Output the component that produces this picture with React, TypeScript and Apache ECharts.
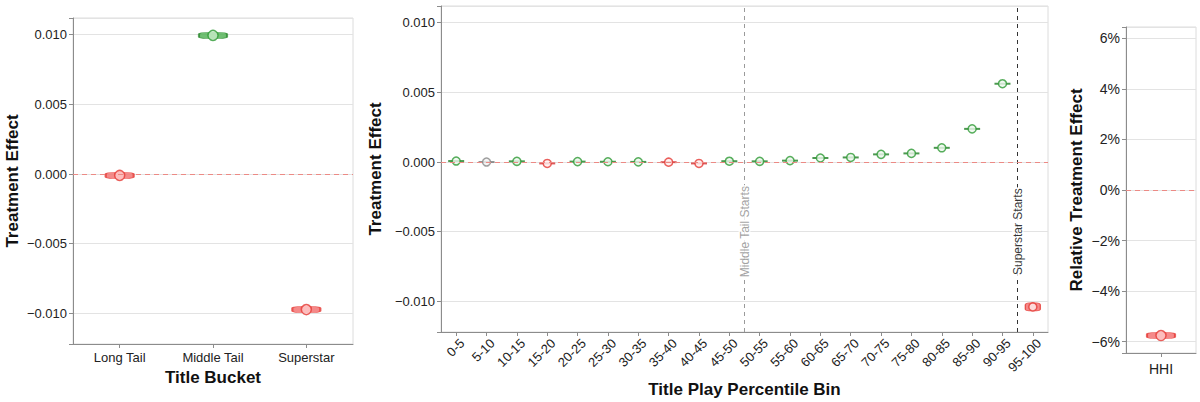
import React, { useEffect, useRef } from "react";
import * as echarts from "echarts";

// ---- data ----
const bucketCategories = ["Long Tail", "Middle Tail", "Superstar"];
const bucketEffects = [-0.0001, 0.00995, -0.00973];
const bucketSignificance = ["neg", "pos", "neg"];

const binCategories = [
  "0-5", "5-10", "10-15", "15-20", "20-25", "25-30", "30-35", "35-40", "40-45", "45-50",
  "50-55", "55-60", "60-65", "65-70", "70-75", "75-80", "80-85", "85-90", "90-95", "95-100",
];
const binEffects = [
  0.00007, 0.0, 0.00005, -0.0001, 0.00003, 0.00002, 0.00001, -0.00001, -0.0001, 0.00006,
  0.00005, 0.0001, 0.00029, 0.00033, 0.00055, 0.00062, 0.00102, 0.00238, 0.00562, -0.0104,
];
const binSignificance = [
  "pos", "ns", "pos", "neg", "pos", "pos", "pos", "neg", "neg", "pos",
  "pos", "pos", "pos", "pos", "pos", "pos", "pos", "pos", "pos", "neg",
];

const thresholdPositions = [9.5, 18.5];
const thresholdLabels = ["Middle Tail Starts", "Superstar Starts"];

const hhiCategories = ["HHI"];
const hhiEffects = [-5.76];
const hhiSignificance = ["neg"];

// ---- style ----
const FONT = "'Liberation Sans', Arial, sans-serif";
const palette: Record<string, any> = {
  pos: { bar: "#4caf50", barBorder: "#2e8b32", dot: "#c8ecc8", dotBorder: "#2e9a34", tick: "#1f7f24", dot2: "#eef8ee" },
  neg: { bar: "#f26b6b", barBorder: "#e53935", dot: "#ffcaca", dotBorder: "#e53935", tick: "#d32f2f", dot2: "#fff0f0" },
  ns: { bar: "#9e9e9e", barBorder: "#808080", dot: "#e0e0e0", dotBorder: "#8a8a8a", tick: "#777777", dot2: "#f2f2f2" },
};
const EFFECT_MIN = -0.0122;
const EFFECT_MAX = 0.0112;
const REL_MIN = -6.45;
const REL_MAX = 6.45;
const THRESH_LABEL_Y = -0.005;

const minus = (s: string) => s.replace("-", "\u2212");
const fmtEffect = (v: number) => {
  const k = Math.round(v / 0.005);
  if (Math.abs(v - k * 0.005) > 1e-9) return "";
  return minus((k * 0.005).toFixed(3));
};
const fmtPct = (v: number) => {
  const k = Math.round(v / 2);
  if (Math.abs(v - k * 2) > 1e-9) return "";
  return minus(String(k * 2)) + "%";
};

const mkAxisLine = () => ({ show: true, onZero: false, lineStyle: { color: "#8c8c8c", width: 1 } });
const axisTick = { show: true, length: 4, lineStyle: { color: "#8c8c8c" } };
const splitLine = { show: true, lineStyle: { color: "#e3e3e3", width: 1 } };
const axisLabel = { color: "#222", fontSize: 13, fontFamily: FONT };
const nameStyle = { color: "#111", fontSize: 17, fontWeight: "bold" as const, fontFamily: FONT };

const mkZeroLine = () => ({
  silent: true,
  symbol: "none",
  label: { show: false },
  lineStyle: { color: "#ec8a85", type: [5, 4], width: 1 },
  data: [{ yAxis: 0 }],
});

const gridBase = {
  show: true, borderColor: "#dcdcdc", borderWidth: 1, backgroundColor: "transparent",
  containLabel: false, outerBoundsMode: "none",
};

export default function App() {
  const ref = useRef<HTMLDivElement>(null);

  useEffect(() => {
    if (!ref.current) return;
    const chart = echarts.init(ref.current, undefined, { renderer: "svg" });

    const option: any = {
      animation: false,
      backgroundColor: "#ffffff",
      textStyle: { fontFamily: FONT },
      grid: [
        { ...gridBase, left: 73, top: 18, width: 280, height: 326 },
        { ...gridBase, left: 441, top: 6, width: 607, height: 326 },
        { ...gridBase, left: 1126, top: 27, width: 70, height: 326 },
      ],
      xAxis: [
        {
          type: "category", gridIndex: 0, data: bucketCategories,
          axisLine: mkAxisLine(), axisTick: { ...axisTick, alignWithLabel: true }, axisLabel: { ...axisLabel, margin: 7 },
          name: "Title Bucket", nameLocation: "middle", nameGap: 24, nameTextStyle: nameStyle,
        },
        {
          type: "category", gridIndex: 1, data: binCategories,
          axisLine: mkAxisLine(), axisTick: { ...axisTick, alignWithLabel: true },
          axisLabel: {
            ...axisLabel, rotate: 45, margin: 3, interval: 0,
            formatter: (v: string) => `{b|${v}}`,
            rich: { b: { fontSize: 13, fontFamily: FONT, color: "#222", padding: [17, 0, 0, 0] } },
          },
          name: "Title Play Percentile Bin", nameLocation: "middle", nameGap: 48, nameTextStyle: nameStyle,
        },
        {
          type: "category", gridIndex: 2, data: hhiCategories,
          axisLine: mkAxisLine(), axisTick: { ...axisTick, alignWithLabel: true }, axisLabel: { ...axisLabel, fontSize: 14, margin: 9 },
        },
        { type: "value", gridIndex: 1, min: -0.5, max: binCategories.length - 0.5, show: false },
      ],
      yAxis: [
        {
          type: "value", gridIndex: 0, min: EFFECT_MIN, max: EFFECT_MAX, splitNumber: 5,
          axisLine: mkAxisLine(), axisTick, splitLine, axisLabel: { ...axisLabel, formatter: fmtEffect, margin: 6 },
          name: "Treatment Effect", nameLocation: "middle", nameGap: 52, nameRotate: 90, nameTextStyle: nameStyle,
        },
        {
          type: "value", gridIndex: 1, min: EFFECT_MIN, max: EFFECT_MAX, splitNumber: 5,
          axisLine: mkAxisLine(), axisTick, splitLine, axisLabel: { ...axisLabel, formatter: fmtEffect, margin: 6 },
          name: "Treatment Effect", nameLocation: "middle", nameGap: 51, nameRotate: 90, nameTextStyle: nameStyle,
        },
        {
          type: "value", gridIndex: 2, min: REL_MIN, max: REL_MAX, splitNumber: 6,
          axisLine: mkAxisLine(), axisTick, splitLine, axisLabel: { ...axisLabel, fontSize: 14, formatter: fmtPct, margin: 6 },
          name: "Relative Treatment Effect", nameLocation: "middle", nameGap: 41, nameRotate: 90, nameTextStyle: nameStyle,
        },
      ],
      series: [
        // ---- panel 1 ----
        {
          type: "scatter", xAxisIndex: 0, yAxisIndex: 0, z: 3, silent: true,
          symbol: "roundRect", symbolSize: [28, 6],
          data: bucketEffects.map((v, i) => ({
            value: [i, v],
            itemStyle: { color: palette[bucketSignificance[i]].bar, borderColor: palette[bucketSignificance[i]].barBorder, borderWidth: 1 },
          })),
          markLine: mkZeroLine(),
        },
        {
          type: "scatter", xAxisIndex: 0, yAxisIndex: 0, z: 4, silent: true,
          symbol: "circle", symbolSize: 10,
          data: bucketEffects.map((v, i) => ({
            value: [i, v],
            itemStyle: { color: palette[bucketSignificance[i]].dot, borderColor: palette[bucketSignificance[i]].dotBorder, borderWidth: 1.5 },
          })),
        },
        // ---- panel 2 ----
        {
          type: "scatter", xAxisIndex: 3, yAxisIndex: 1, z: 1, silent: true,
          symbolSize: 0, data: [],
          markLine: {
            silent: true, symbol: "none", label: { show: false },
            data: thresholdPositions.map((x, i) => ({
              xAxis: x,
              lineStyle: { color: i === 0 ? "#9a9a9a" : "#333333", type: [4, 4], width: 1 },
            })),
          },
        },
        {
          type: "scatter", xAxisIndex: 1, yAxisIndex: 1, z: 3, silent: true,
          data: binEffects.map((v, i) => {
            const last = i === binEffects.length - 1;
            const p = palette[binSignificance[i]];
            return {
              value: [i, v],
              symbol: last ? "roundRect" : "rect",
              symbolSize: last ? [15, 8] : [16, 2],
              itemStyle: last
                ? { color: p.bar, borderColor: p.barBorder, borderWidth: 1 }
                : { color: p.tick },
            };
          }),
          markLine: mkZeroLine(),
        },
        {
          type: "scatter", xAxisIndex: 1, yAxisIndex: 1, z: 4, silent: true,
          symbol: "circle", symbolSize: 8,
          data: binEffects.map((v, i) => ({
            value: [i, v],
            itemStyle: { color: palette[binSignificance[i]].dot2, borderColor: palette[binSignificance[i]].dotBorder, borderWidth: 1.5 },
          })),
        },
        {
          type: "scatter", xAxisIndex: 3, yAxisIndex: 1, z: 10, silent: true,
          symbol: "circle", symbolSize: 1, itemStyle: { color: "transparent" },
          data: thresholdPositions.map((x, i) => ({
            value: [x, THRESH_LABEL_Y],
            label: {
              show: true, position: "inside", rotate: 90,
              formatter: thresholdLabels[i],
              fontSize: 12, fontFamily: FONT,
              color: i === 0 ? "#8a8a8a" : "#000000",
              backgroundColor: "#ffffff", padding: [0, 1],
            },
          })),
        },
        // ---- panel 3 ----
        {
          type: "scatter", xAxisIndex: 2, yAxisIndex: 2, z: 3, silent: true,
          symbol: "roundRect", symbolSize: [28, 6],
          data: hhiEffects.map((v, i) => ({
            value: [i, v],
            itemStyle: { color: palette[hhiSignificance[i]].bar, borderColor: palette[hhiSignificance[i]].barBorder, borderWidth: 1 },
          })),
          markLine: mkZeroLine(),
        },
        {
          type: "scatter", xAxisIndex: 2, yAxisIndex: 2, z: 4, silent: true,
          symbol: "circle", symbolSize: 10,
          data: hhiEffects.map((v, i) => ({
            value: [i, v],
            itemStyle: { color: palette[hhiSignificance[i]].dot, borderColor: palette[hhiSignificance[i]].dotBorder, borderWidth: 1.5 },
          })),
        },
      ],
    };

    chart.setOption(option);
    return () => chart.dispose();
  }, []);

  return (
    <div
      ref={ref}
      style={{ position: "absolute", left: 0, top: 0, width: 1200, height: 402, background: "#fff" }}
    />
  );
}
